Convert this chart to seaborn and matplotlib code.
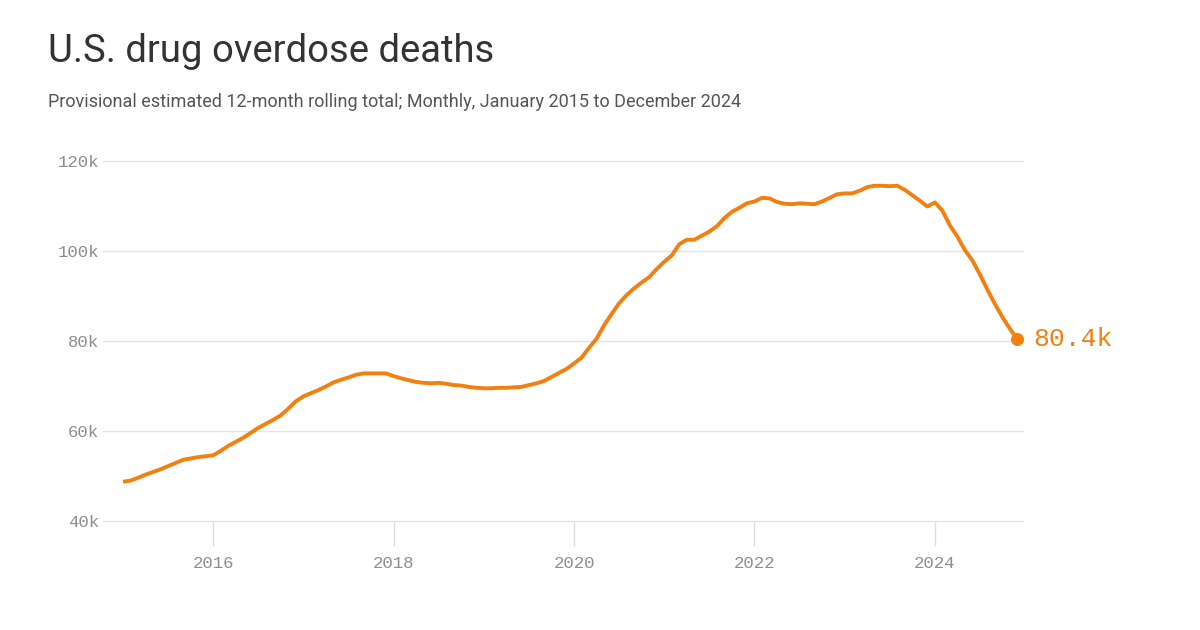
import numpy as np
import pandas as pd
import matplotlib
matplotlib.use("Agg")
import matplotlib.pyplot as plt
import seaborn as sns

# Monthly 12-month rolling totals (thousands), Jan 2015 .. Dec 2024
deaths_2015 = [48.7, 49.0, 49.6, 50.3, 50.9, 51.5, 52.2, 52.9, 53.6, 53.9, 54.2, 54.4]
deaths_2016 = [54.6, 55.6, 56.7, 57.6, 58.5, 59.6, 60.7, 61.6, 62.5, 63.5, 65.0, 66.6]
deaths_2017 = [67.7, 68.4, 69.1, 69.9, 70.8, 71.4, 71.9, 72.5, 72.8, 72.8, 72.8, 72.8]
deaths_2018 = [72.2, 71.7, 71.3, 70.9, 70.7, 70.6, 70.7, 70.5, 70.2, 70.1, 69.8, 69.6]
deaths_2019 = [69.5, 69.5, 69.6, 69.6, 69.7, 69.8, 70.2, 70.6, 71.1, 72.0, 72.9, 73.8]
deaths_2020 = [75.0, 76.3, 78.5, 80.5, 83.5, 86.0, 88.4, 90.2, 91.7, 93.0, 94.2, 96.0]
deaths_2021 = [97.6, 99.0, 101.5, 102.5, 102.5, 103.4, 104.3, 105.5, 107.3, 108.7, 109.6, 110.6]
deaths_2022 = [111.0, 111.8, 111.7, 110.9, 110.5, 110.4, 110.6, 110.5, 110.4, 111.0, 111.8, 112.6]
deaths_2023 = [112.8, 112.8, 113.4, 114.2, 114.5, 114.5, 114.4, 114.5, 113.6, 112.4, 111.2, 109.9]
deaths_2024 = [110.8, 109.0, 105.7, 103.2, 100.2, 97.9, 94.8, 91.4, 88.2, 85.3, 82.7, 80.4]

years = list(range(2015, 2025))
tick_years = [2016, 2018, 2020, 2022, 2024]
y_ticks = [40, 60, 80, 100, 120]
y_labels = ["40k", "60k", "80k", "100k", "120k"]
end_label = "80.4k"

title = "U.S. drug overdose deaths"
subtitle = "Provisional estimated 12-month rolling total; Monthly, January 2015 to December 2024"

values = (deaths_2015 + deaths_2016 + deaths_2017 + deaths_2018 + deaths_2019 +
          deaths_2020 + deaths_2021 + deaths_2022 + deaths_2023 + deaths_2024)
dates = [y + m / 12 for y in years for m in range(12)]
df = pd.DataFrame({"date": dates, "deaths": values})

ORANGE = "#F2800F"
GRID = "#E3E3E3"
TICKMARK = "#DDDDDD"
TICK = "#8E8E8E"

sns.set_theme(style="white")
plt.rcParams["font.family"] = ["Roboto", "DejaVu Sans"]

fig = plt.figure(figsize=(12, 6.3), dpi=100)
fig.patch.set_facecolor("white")
W, H = 1200, 630
ax = fig.add_axes([103 / W, 1 - 521 / H, (1023 - 103) / W, (521 - 161) / H])

sns.lineplot(data=df, x="date", y="deaths", ax=ax, color=ORANGE, linewidth=2.8,
             solid_joinstyle="round", solid_capstyle="butt", zorder=3)

last_x, last_y = df["date"].iloc[-1], df["deaths"].iloc[-1]
ax.scatter([last_x], [last_y], s=70, color=ORANGE, zorder=4, clip_on=False)
ax.annotate(end_label, xy=(last_x, last_y), xytext=(11, 0), textcoords="offset points",
            va="center", ha="left", color=ORANGE, fontsize=19,
            family=["Liberation Mono", "DejaVu Sans Mono"], annotation_clip=False)

ax.set_xlim(2015 - 20 / 90, 2015 + 898 / 90)
ax.set_ylim(40, 120)
ax.set_yticks(y_ticks)
ax.set_yticklabels(y_labels)
ax.set_xticks(tick_years)
ax.set_xticklabels([str(t) for t in tick_years])
ax.grid(axis="y", color=GRID, linewidth=1)
for gl in ax.yaxis.get_gridlines():
    gl.set_clip_on(False)
ax.set_axisbelow(True)
for s in ax.spines.values():
    s.set_visible(False)
ax.set_xlabel("")
ax.set_ylabel("")
ax.tick_params(axis="y", left=False, length=0, pad=3, labelsize=12.5, labelcolor=TICK)
ax.tick_params(axis="x", bottom=True, length=18, width=1, color=TICKMARK, pad=7,
               labelsize=12.5, labelcolor=TICK, direction="out")
for lab in ax.get_xticklabels() + ax.get_yticklabels():
    lab.set_family(["Liberation Mono", "DejaVu Sans Mono"])

fig.text(48 / W, 1 - 62 / H, title, fontsize=27.5, color="#333333", va="baseline", ha="left")
fig.text(48 / W, 1 - 102 / H, subtitle, fontsize=13, color="#555555", va="center", ha="left")

fig.savefig("out.png", dpi=100, facecolor="white")
